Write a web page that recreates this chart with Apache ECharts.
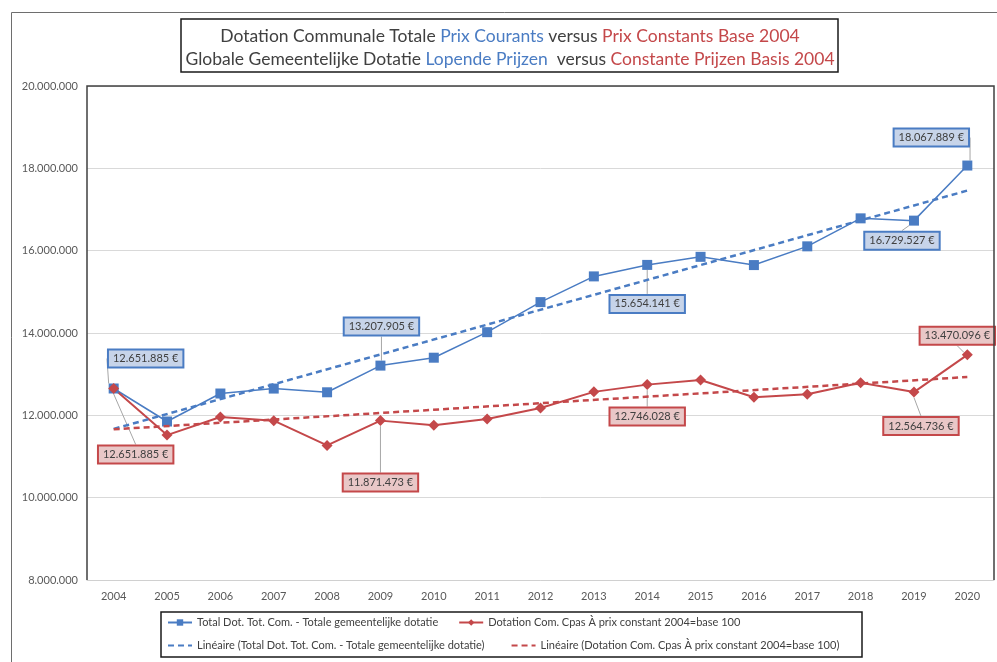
<!DOCTYPE html>
<html>
<head>
<meta charset="utf-8">
<script src="https://cdn.jsdelivr.net/npm/echarts@6/dist/echarts.min.js"></script>
<style>html,body{margin:0;padding:0;background:#fff;}#c{width:997px;height:662px;}</style>
</head>
<body>
<div id="c"></div>
<script>
// ---- data ----
const years = ['2004','2005','2006','2007','2008','2009','2010','2011','2012','2013','2014','2015','2016','2017','2018','2019','2020'];
const totalCourant = [12651885, 11850000, 12530000, 12650000, 12560000, 13207905, 13400000, 14020000, 14750000, 15375000, 15654141, 15850000, 15650000, 16105000, 16785000, 16729527, 18067889];
const totalConstant = [12651885, 11520000, 11960000, 11870000, 11270000, 11871473, 11760000, 11910000, 12180000, 12570000, 12746028, 12860000, 12440000, 12510000, 12790000, 12564736, 13470096];
// linear trend lines read at their end points (2004, 2020)
const trendCourant = [11670000, null, null, null, null, null, null, null, null, null, null, null, null, null, null, null, 17460000];
const trendConstant = [11660000, null, null, null, null, null, null, null, null, null, null, null, null, null, null, null, 12930000];
const yTicks = {min: 8000000, max: 20000000, interval: 2000000};
const labeledIdx = [0, 5, 10, 15, 16];
const seriesNames = [
  'Total Dot. Tot. Com. - Totale gemeentelijke dotatie',
  'Dotation Com. Cpas À prix constant 2004=base 100',
  'Linéaire (Total Dot. Tot. Com. - Totale gemeentelijke dotatie)',
  'Linéaire (Dotation Com. Cpas À prix constant 2004=base 100)'
];

// ---- styling ----
const BLUE = '#4a7cc3';
const RED = '#c4484a';
const TXT = '#404040';
const FONT = 'Lato, "Open Sans", sans-serif';
const blueOffsets = {0: [32, -30], 5: [1, -39], 10: [0, 39], 15: [-12, 20], 16: [-36, -28]};
const redOffsets = {0: [22, 66], 5: [0, 62], 10: [0, 32], 15: [7, 34], 16: [-10, -19]};

function fmt(v) {
  return String(Math.round(v)).replace(/\B(?=(\d{3})+(?!\d))/g, '.');
}

function buildData(values, bg, border) {
  return values.map((v, i) => {
    if (labeledIdx.indexOf(i) < 0) return v;
    return {
      value: v,
      label: {
        show: true,
        position: 'inside',
        formatter: p => fmt(p.value) + ' €',
        fontFamily: FONT,
        fontSize: 11,
        color: TXT,
        backgroundColor: bg,
        borderColor: border,
        borderWidth: 2,
        padding: [3, 4, 2, 4]
      }
    };
  });
}

const richTitle = {
  g: {fontFamily: FONT, fontSize: 17.5, fontWeight: 'normal', color: TXT},
  b: {fontFamily: FONT, fontSize: 17.5, fontWeight: 'normal', color: BLUE},
  r: {fontFamily: FONT, fontSize: 17.5, fontWeight: 'normal', color: RED}
};

const chart = echarts.init(document.getElementById('c'), null, {renderer: 'canvas'});
chart.setOption({
  animation: false,
  textStyle: {fontFamily: FONT},
  title: [
    {
      text: '{g|Dotation Communale Totale }{b|Prix Courants}{g| versus }{r|Prix Constants Base 2004}',
      left: 510, top: 27, textAlign: 'center', padding: 0,
      textStyle: {fontWeight: 'normal', rich: richTitle}
    },
    {
      text: '{g|Globale Gemeentelijke Dotatie }{b|Lopende Prijzen}{g|  versus }{r|Constante Prijzen Basis 2004}',
      left: 510, top: 50, textAlign: 'center', padding: 0,
      textStyle: {fontWeight: 'normal', rich: richTitle}
    }
  ],
  graphic: [
    {type: 'rect', shape: {x: 11.5, y: 12.5, width: 1010, height: 700}, style: {fill: null, stroke: '#6e6e6e', lineWidth: 1}, z: -10, silent: true},
    {type: 'rect', shape: {x: 181, y: 19, width: 657, height: 53}, style: {fill: null, stroke: '#1a1a1a', lineWidth: 1.5}, silent: true},
    {type: 'polyline', shape: {points: [[87, 580], [87, 86], [994, 86], [994, 580]]}, style: {fill: null, stroke: '#404040', lineWidth: 1.5}, z: 10, silent: true},
    {type: 'rect', shape: {x: 161, y: 612, width: 701, height: 45}, style: {fill: null, stroke: '#1a1a1a', lineWidth: 1.5}, silent: true}
  ],
  legend: [
    {
      data: [seriesNames[0], seriesNames[1]],
      left: 167, top: 617, padding: 0, itemGap: 20, itemWidth: 24, itemHeight: 8,
      textStyle: {fontFamily: FONT, fontSize: 11, color: TXT}
    },
    {
      data: [
        {name: seriesNames[2], itemStyle: {opacity: 0}},
        {name: seriesNames[3], itemStyle: {opacity: 0}}
      ],
      left: 167, top: 640, padding: 0, itemGap: 26, itemWidth: 24, itemHeight: 8,
      textStyle: {fontFamily: FONT, fontSize: 11, color: TXT}
    }
  ],
  grid: {left: 87, top: 86, right: 3, bottom: 82, containLabel: false},
  xAxis: {
    type: 'category',
    data: years,
    boundaryGap: true,
    axisLine: {show: true, lineStyle: {color: '#d0d0d0', width: 1}},
    axisTick: {show: false},
    axisLabel: {color: '#595959', fontSize: 11, fontFamily: FONT, margin: 11, interval: 0}
  },
  yAxis: {
    type: 'value',
    min: yTicks.min, max: yTicks.max, interval: yTicks.interval,
    axisLine: {show: false},
    axisTick: {show: false},
    axisLabel: {color: '#595959', fontSize: 11, fontFamily: FONT, margin: 9, formatter: v => fmt(v)},
    splitLine: {lineStyle: {color: '#d9d9d9', width: 1}}
  },
  series: [
    {
      name: seriesNames[0], type: 'line',
      data: buildData(totalCourant, '#c7d4e9', BLUE),
      symbol: 'rect', symbolSize: 10,
      lineStyle: {color: BLUE, width: 1.5},
      itemStyle: {color: BLUE},
      labelLayout: p => { const o = blueOffsets[p.dataIndex]; return o ? {dx: o[0], dy: o[1]} : {}; },
      labelLine: {show: true, lineStyle: {color: '#a6a6a6', width: 1}},
      z: 3
    },
    {
      name: seriesNames[1], type: 'line',
      data: buildData(totalConstant, '#e9c7c7', RED),
      symbol: 'diamond', symbolSize: 11,
      lineStyle: {color: RED, width: 2},
      itemStyle: {color: RED},
      labelLayout: p => { const o = redOffsets[p.dataIndex]; return o ? {dx: o[0], dy: o[1]} : {}; },
      labelLine: {show: true, lineStyle: {color: '#a6a6a6', width: 1}},
      z: 3
    },
    {
      name: seriesNames[2], type: 'line',
      data: trendCourant, connectNulls: true,
      symbol: 'none',
      lineStyle: {color: BLUE, width: 2.5, type: [6, 4]},
      itemStyle: {color: BLUE},
      z: 4
    },
    {
      name: seriesNames[3], type: 'line',
      data: trendConstant, connectNulls: true,
      symbol: 'none',
      lineStyle: {color: RED, width: 2.5, type: [6, 4]},
      itemStyle: {color: RED},
      z: 4
    }
  ]
});
</script>
</body>
</html>
